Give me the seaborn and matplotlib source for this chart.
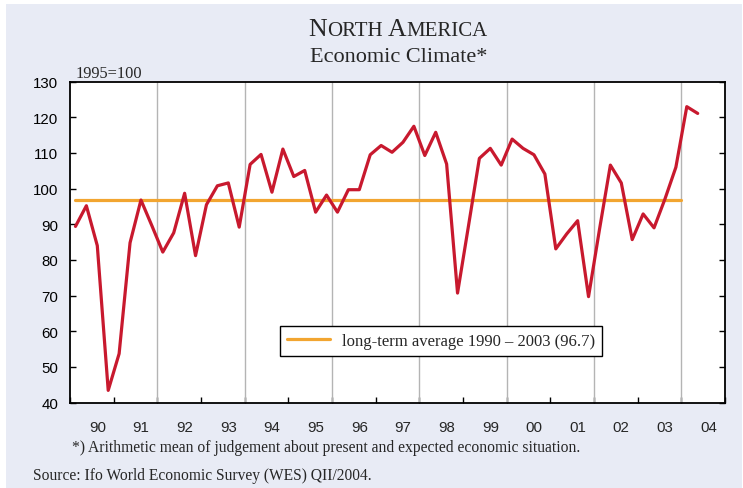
import seaborn as sns
import matplotlib.pyplot as plt
import pandas as pd
import numpy as np
from matplotlib.patches import Rectangle
from matplotlib.offsetbox import TextArea, HPacker, AnchoredOffsetbox

# quarterly values, 1990 Q1 .. 2004 Q2
start_year = 1990
climate = [89.4, 95.2, 84.0, 43.4, 53.7, 84.8, 96.8, 89.6, 82.2, 87.6,
           98.7, 81.2, 95.5, 100.8, 101.6, 89.2, 106.8, 109.6, 99.0, 111.1,
           103.4, 105.1, 93.4, 98.2, 93.4, 99.7, 99.7, 109.5, 112.1, 110.2,
           113.0, 117.5, 109.3, 115.8, 106.9, 70.7, 89.5, 108.5, 111.3, 106.6,
           113.9, 111.3, 109.5, 104.1, 83.1, 87.3, 91.0, 69.7, 88.5, 106.6,
           101.6, 85.7, 92.9, 89.0, 97.1, 106.0, 123.0, 121.1]
long_term_avg = 96.7
avg_span = [1990.125, 2004.0]
year_labels = ["90", "91", "92", "93", "94", "95", "96", "97", "98", "99",
               "00", "01", "02", "03", "04"]

df = pd.DataFrame({
    "t": [start_year + 0.125 + 0.25 * i for i in range(len(climate))],
    "value": climate,
})
avg_df = pd.DataFrame({"t": avg_span, "value": [long_term_avg] * 2})

sns.set_style("white")
plt.rcParams["font.family"] = ["Liberation Serif", "DejaVu Serif"]

bg = "#e8ebf5"
red = "#c8192e"
orange = "#f2a530"
serif = "Liberation Serif"
sans = "Liberation Sans"

fig = plt.figure(figsize=(7.43, 4.89), dpi=100, facecolor="white")
fig.add_artist(Rectangle((6 / 743, 0), 736 / 743, 484 / 489, transform=fig.transFigure,
                         facecolor=bg, edgecolor="none", zorder=-10))
ax = fig.add_axes([70 / 743, 1 - 403.5 / 489, 655 / 743, 320.8 / 489])
ax.set_facecolor("white")

for yr in range(1992, 2005, 2):
    ax.axvline(yr, color="#b4b4b4", lw=1.0, zorder=1)

sns.lineplot(data=avg_df, x="t", y="value", color=orange, lw=2.3, ax=ax,
             label="long-term average 1990 \u2013 2003 (96.7)", zorder=2)
sns.lineplot(data=df, x="t", y="value", color=red, lw=2.3, ax=ax, zorder=3)

ax.set_xlim(1990, 2005)
ax.set_ylim(40, 130)
ax.set_xlabel("")
ax.set_ylabel("")

ax.set_yticks(np.arange(40, 131, 10))
ax.tick_params(axis="y", which="both", direction="in", length=4, width=1,
               left=True, right=True, labelsize=10.8, pad=8.4, colors="black")
for lab in ax.get_yticklabels():
    lab.set_fontfamily(sans)

ax.set_xticks(np.arange(1990, 2006, 1))
ax.set_xticklabels([])
ax.set_xticks([start_year + i + 0.625 for i in range(len(year_labels))], minor=True)
ax.set_xticklabels(year_labels, minor=True, fontfamily=sans, fontsize=10.8)
ax.tick_params(axis="x", which="major", direction="in", length=4, width=1,
               bottom=True, colors="black")
ax.tick_params(axis="x", which="minor", length=0, pad=12.5)

for s in ax.spines.values():
    s.set_color("black")
    s.set_linewidth(1.3)

leg = ax.legend(loc="center", bbox_to_anchor=(0.566, 0.192), frameon=True,
                fancybox=False, edgecolor="black", framealpha=1,
                handlelength=2.6, handletextpad=0.7, borderpad=0.42,
                prop={"family": serif, "size": 12})
leg.get_frame().set_linewidth(1.0)

# title with small caps
parts = [("N", 18.5), ("ORTH", 15), (" ", 15), ("A", 18.5), ("MERICA", 15)]
boxes = [TextArea(t, textprops=dict(fontsize=s, family=serif)) for t, s in parts]
pack = HPacker(children=boxes, align="baseline", pad=0, sep=0)
title_box = AnchoredOffsetbox(loc="center", child=pack, frameon=False, pad=0, borderpad=0,
                              bbox_to_anchor=(398 / 743, 1 - 30 / 489),
                              bbox_transform=fig.transFigure)
fig.add_artist(title_box)
fig.text(399 / 743, 1 - 58 / 489, "Economic Climate*", ha="center", va="center",
         fontsize=16, family=serif)

fig.text(76 / 743, 1 - 77.5 / 489, "1995=100", ha="left", va="baseline",
         fontsize=11.8, family=serif)
fig.text(72 / 743, 1 - 448 / 489,
         "*) Arithmetic mean of judgement about present and expected economic situation.",
         ha="left", va="center", fontsize=11.25, family=serif)
fig.text(33 / 743, 1 - 476 / 489, "Source: Ifo World Economic Survey (WES) QII/2004.",
         ha="left", va="center", fontsize=11.2, family=serif)

plt.savefig("out.png", dpi=100, facecolor=fig.get_facecolor())
